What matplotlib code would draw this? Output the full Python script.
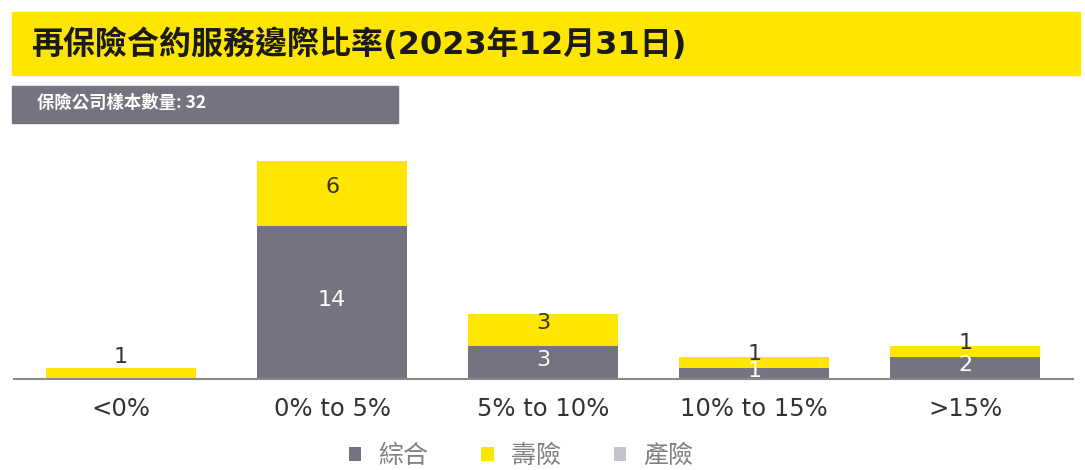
import numpy as np
import matplotlib.pyplot as plt
from matplotlib.patches import Rectangle

plt.rcParams['font.family'] = ['Noto Sans CJK TC', 'DejaVu Sans']

# 資料
categories = ["<0%", "0% to 5%", "5% to 10%", "10% to 15%", ">15%"]
composite = [0, 14, 3, 1, 2]   # 綜合
life = [1, 6, 3, 1, 1]         # 壽險
nonlife = [0, 0, 0, 0, 0]      # 產險
series_names = ["綜合", "壽險", "產險"]
title = "再保險合約服務邊際比率(2023年12月31日)"
subtitle = "保險公司樣本數量: 32"

GREY = "#747480"
YELLOW = "#FFE600"
LIGHT = "#C4C4CD"

W, H = 1085, 470
fig = plt.figure(figsize=(W / 100, H / 100), dpi=100)

# 標題橫條
fig.patches.append(Rectangle((12 / W, 1 - 75 / H), 1068 / W, 63 / H,
                             transform=fig.transFigure, color=YELLOW, zorder=0))
fig.text(31 / W, 1 - 45 / H, title, fontsize=23, fontweight='bold',
         color='#1a1a1a', va='center', ha='left',
         family=['DejaVu Sans', 'Noto Sans CJK TC'])

# 樣本數量
fig.patches.append(Rectangle((12 / W, 1 - 123 / H), 386 / W, 37 / H,
                             transform=fig.transFigure, color=GREY, zorder=0))
fig.text(37 / W, 1 - 103 / H, subtitle, fontsize=12.5, fontweight='bold',
         color='white', va='center', ha='left')

ax = fig.add_axes([14 / W, 91 / H, 1059 / W, 218 / H])
x = np.arange(len(categories))
w = 0.71
comp = np.array(composite)
lf = np.array(life)
nl = np.array(nonlife)

ax.bar(x, comp, w, color=GREY, label=series_names[0])
ax.bar(x, lf, w, bottom=comp, color=YELLOW, label=series_names[1])
ax.bar(x, nl, w, bottom=comp + lf, color=LIGHT, label=series_names[2])

num_font = dict(fontsize=16, family='DejaVu Sans', ha='center', va='center')
for i in range(len(categories)):
    if comp[i] > 0:
        ax.annotate(str(comp[i]), (x[i], comp[i] / 2), xytext=(0, 2),
                    textcoords='offset points', color='white', **num_font)
    if lf[i] > 0:
        # 小區段的數字往上移
        dy = 12 if comp[i] == 0 else (6 if lf[i] < 2 else 5)
        ax.annotate(str(lf[i]), (x[i], comp[i] + lf[i] / 2), xytext=(0, dy),
                    textcoords='offset points', color='#333333', **num_font)

ax.set_xlim(-0.507, 4.51)
ax.set_ylim(0, 20)
ax.set_yticks([])
ax.set_xticks(x)
ax.set_xticklabels(categories, fontsize=17.5, color='#333333', family='DejaVu Sans')
ax.tick_params(axis='x', length=0, pad=13)
for s in ['top', 'right', 'left']:
    ax.spines[s].set_visible(False)
ax.spines['bottom'].set_color('#8a8a8a')
ax.spines['bottom'].set_linewidth(1.5)

leg = fig.legend(loc='center', bbox_to_anchor=(521 / W, 1 - 456 / H), ncol=3,
                 frameon=False, fontsize=18, handlelength=0.5, handleheight=0.5,
                 columnspacing=2.1, handletextpad=0.7, borderpad=0)
for t in leg.get_texts():
    t.set_color('#808080')

fig.savefig("out.png", dpi=100)
